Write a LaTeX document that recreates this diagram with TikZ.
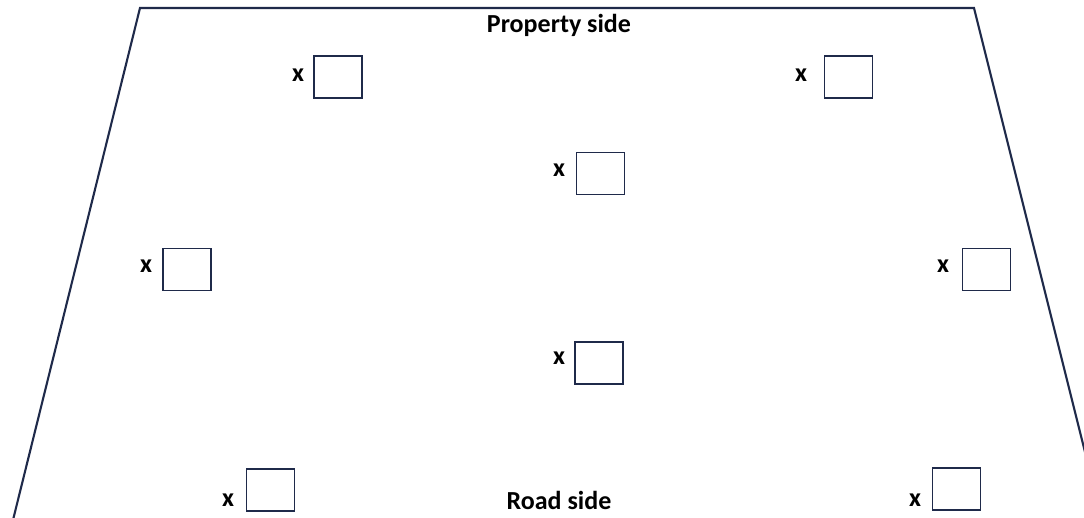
\documentclass[tikz,border=0pt]{standalone}
\usepackage{fontspec}
\setmainfont{Carlito}
\definecolor{edge}{HTML}{1F2A4A}
\begin{document}
\begin{tikzpicture}[x=1pt,y=-1pt,
  plot/.style={draw=edge,line width=2.1pt,line join=miter},
  post/.style={draw=edge,line width=1.9pt,minimum width=48pt,minimum height=42pt,inner sep=0pt},
  mark label/.style={font=\fontsize{26}{28}\selectfont\bfseries,inner sep=0pt},
  side label/.style={font=\fontsize{26}{28}\selectfont\bfseries,inner sep=0pt}]
\useasboundingbox (0,0) rectangle (1084,518);
\begin{scope}
\clip (0,0) rectangle (1084,518);
% outline of the plot
\draw[plot] (13,520) -- (140,8) -- (974,8) -- (1102,520);
\end{scope}
\node[side label] (top) at (559,25) {Property side};
\node[side label] (bottom) at (559,500) {Road side};
% posts, each with its mark
\node[post] (p1) at (338,77) {};
\node[post] (p2) at (848.5,77) {};
\node[post] (p3) at (600.5,173.5) {};
\node[post] (p4) at (187,269.5) {};
\node[post] (p5) at (986.5,269.5) {};
\node[post] (p6) at (599,363) {};
\node[post] (p7) at (270.5,490) {};
\node[post] (p8) at (956.5,489) {};
\foreach \p/\xx/\yy in {p1/298/75, p2/801/75, p3/559/170, p4/146/266, p5/943/266, p6/559/358, p7/228/500, p8/915/500}
  \node[mark label] (m\p) at (\xx,\yy) {x};
\end{tikzpicture}
\end{document}
